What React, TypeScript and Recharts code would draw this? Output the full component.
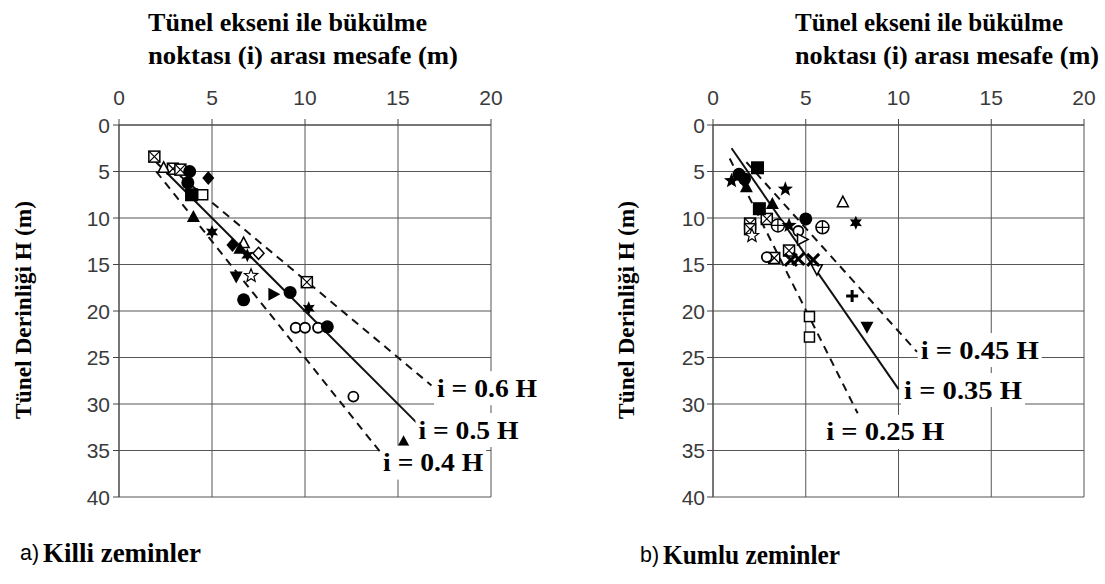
import React from 'react';
import { ScatterChart, Scatter, XAxis, YAxis, CartesianGrid, ReferenceLine } from 'recharts';

// ---------- axis ticks ----------
const xTicks = [0, 5, 10, 15, 20];
const yTicks = [0, 5, 10, 15, 20, 25, 30, 35, 40];

// ---------- titles ----------
const titleLine1 = 'Tünel ekseni ile bükülme';
const titleLine2 = 'noktası (i) arası mesafe (m)';
const yTitle = 'Tünel Derinliği H (m)';
const captionA = ['a)', 'Killi zeminler'];
const captionB = ['b)', 'Kumlu zeminler'];

// ---------- panel a) clay: points by marker ----------
const aCircleF = [{ x: 3.8, y: 5.0 }, { x: 3.7, y: 6.2 }, { x: 9.2, y: 18.0 }, { x: 6.7, y: 18.8 }, { x: 11.2, y: 21.7 }];
const aCircleO = [{ x: 9.5, y: 21.8 }, { x: 10.0, y: 21.8 }, { x: 10.7, y: 21.8 }, { x: 12.6, y: 29.2 }];
const aBoxX = [{ x: 1.9, y: 3.4 }, { x: 2.9, y: 4.7 }, { x: 3.3, y: 4.8 }, { x: 10.1, y: 16.9 }];
const aTriO = [{ x: 2.4, y: 4.6 }, { x: 6.7, y: 12.7 }];
const aDiamondF = [{ x: 4.8, y: 5.7 }, { x: 6.1, y: 12.9 }];
const aSquareF = [{ x: 3.9, y: 7.5 }];
const aSquareO = [{ x: 4.5, y: 7.5 }];
const aDiamondO = [{ x: 7.5, y: 13.8 }];
const aTriF = [{ x: 4.0, y: 9.9 }, { x: 6.5, y: 13.3 }, { x: 15.3, y: 34.1 }];
const aStar6 = [{ x: 5.0, y: 11.5 }, { x: 6.9, y: 14.0 }, { x: 10.2, y: 19.7 }];
const aTriDF = [{ x: 6.3, y: 16.3 }];
const aStarO = [{ x: 7.1, y: 16.2 }];
const aTriRF = [{ x: 8.3, y: 18.2 }];

// ---------- panel b) sand: points by marker ----------
const bSquareF = [{ x: 2.4, y: 4.6 }, { x: 2.5, y: 9.0 }];
const bCircleF = [{ x: 1.4, y: 5.3 }, { x: 1.7, y: 5.8 }, { x: 5.0, y: 10.1 }];
const bTriF = [{ x: 1.8, y: 6.7 }, { x: 3.2, y: 8.5 }];
const bStarF = [{ x: 1.0, y: 6.0 }, { x: 3.9, y: 6.9 }, { x: 4.1, y: 10.8 }];
const bStar6 = [{ x: 7.7, y: 10.5 }];
const bBoxX = [{ x: 2.9, y: 10.1 }, { x: 2.0, y: 10.6 }, { x: 2.0, y: 11.2 }, { x: 4.1, y: 13.5 }, { x: 3.3, y: 14.3 }];
const bStarO = [{ x: 2.1, y: 11.9 }];
const bPlusCircle = [{ x: 3.5, y: 10.8 }, { x: 5.9, y: 11.0 }];
const bCircleO = [{ x: 4.6, y: 11.4 }, { x: 2.9, y: 14.2 }];
const bTriO = [{ x: 7.0, y: 8.3 }];
const bTriRO = [{ x: 4.8, y: 12.3 }];
const bCrossF = [{ x: 4.2, y: 14.5 }, { x: 4.6, y: 14.4 }, { x: 5.4, y: 14.5 }];
const bTriDO = [{ x: 5.6, y: 15.5 }];
const bPlus = [{ x: 7.5, y: 18.4 }];
const bTriDF = [{ x: 8.3, y: 21.7 }];
const bSquareO = [{ x: 5.2, y: 20.6 }, { x: 5.2, y: 22.8 }];

// ---------- ratio lines i = k H (start / end points) ----------
const aLine06 = [{ x: 2.7, y: 4.5 }, { x: 16.8, y: 28.0 }];
const aLine05 = [{ x: 2.0, y: 4.0 }, { x: 16.0, y: 32.0 }];
const aLine04 = [{ x: 2.0, y: 5.0 }, { x: 14.5, y: 36.3 }];
const bLine045 = [{ x: 1.8, y: 4.0 }, { x: 11.0, y: 24.4 }];
const bLine035 = [{ x: 1.0, y: 2.5 }, { x: 10.0, y: 28.4 }];
const bLine025 = [{ x: 0.9, y: 3.6 }, { x: 7.8, y: 31.0 }];

// ---------- line labels ----------
const aLabels = [
  { x: 17.1, y: 28.3, text: 'i = 0.6 H' },
  { x: 16.1, y: 32.8, text: 'i = 0.5 H' },
  { x: 14.2, y: 36.3, text: 'i = 0.4 H' },
];
const bLabels = [
  { x: 11.2, y: 24.2, text: 'i = 0.45 H' },
  { x: 10.3, y: 28.5, text: 'i = 0.35 H' },
  { x: 6.1, y: 33.0, text: 'i = 0.25 H' },
];

const aSeries: [string, { x: number; y: number }[]][] = [
  ['boxX', aBoxX], ['triO', aTriO], ['circleO', aCircleO], ['squareO', aSquareO], ['diamondO', aDiamondO],
  ['starO', aStarO], ['circleF', aCircleF], ['diamondF', aDiamondF], ['squareF', aSquareF], ['triF', aTriF],
  ['star6', aStar6], ['triDF', aTriDF], ['triRF', aTriRF],
];
const bSeries: [string, { x: number; y: number }[]][] = [
  ['boxX', bBoxX], ['starO', bStarO], ['plusCircle', bPlusCircle], ['circleO', bCircleO], ['triO', bTriO],
  ['triRO', bTriRO], ['triDO', bTriDO], ['squareO', bSquareO], ['squareF', bSquareF], ['circleF', bCircleF],
  ['triF', bTriF], ['starF', bStarF], ['star6', bStar6], ['crossF', bCrossF], ['plus', bPlus], ['triDF', bTriDF],
];

const SERIF = '"Liberation Serif", "Times New Roman", serif';
const SANS = '"Liberation Sans", Arial, sans-serif';
const INK = '#000';
const TICK_COLOR = '#3a3a3a';

function starPts(cx: number, cy: number, n: number, ro: number, ri: number) {
  const pts: string[] = [];
  for (let i = 0; i < n * 2; i++) {
    const r = i % 2 === 0 ? ro : ri;
    const a = -Math.PI / 2 + (i * Math.PI) / n;
    pts.push(`${cx + r * Math.cos(a)},${cy + r * Math.sin(a)}`);
  }
  return pts.join(' ');
}

function Marker(props: any) {
  const { cx, cy, kind } = props;
  if (cx == null || cy == null) return <g />;
  const sw = 1.5;
  switch (kind) {
    case 'circleF':
      return <circle cx={cx} cy={cy} r={6.5} fill={INK} />;
    case 'circleO':
      return <circle cx={cx} cy={cy} r={5} fill="#fff" stroke={INK} strokeWidth={1.8} />;
    case 'squareF':
      return <rect x={cx - 6.5} y={cy - 6.5} width={13} height={13} fill={INK} />;
    case 'squareO':
      return <rect x={cx - 5} y={cy - 5} width={10} height={10} fill="#fff" stroke={INK} strokeWidth={sw} />;
    case 'boxX':
      return (
        <g>
          <rect x={cx - 5.5} y={cy - 5.5} width={11} height={11} fill="#fff" stroke={INK} strokeWidth={sw} />
          <path d={`M${cx - 5.5},${cy - 5.5}L${cx + 5.5},${cy + 5.5}M${cx + 5.5},${cy - 5.5}L${cx - 5.5},${cy + 5.5}`} stroke={INK} strokeWidth={1.2} />
        </g>
      );
    case 'diamondF':
      return <polygon points={`${cx},${cy - 7} ${cx + 6},${cy} ${cx},${cy + 7} ${cx - 6},${cy}`} fill={INK} />;
    case 'diamondO':
      return <polygon points={`${cx},${cy - 6} ${cx + 5.5},${cy} ${cx},${cy + 6} ${cx - 5.5},${cy}`} fill="#fff" stroke={INK} strokeWidth={sw} />;
    case 'triF':
      return <polygon points={`${cx},${cy - 7} ${cx + 6.5},${cy + 5} ${cx - 6.5},${cy + 5}`} fill={INK} />;
    case 'triO':
      return <polygon points={`${cx},${cy - 6} ${cx + 5.5},${cy + 4.5} ${cx - 5.5},${cy + 4.5}`} fill="#fff" stroke={INK} strokeWidth={sw} />;
    case 'triDF':
      return <polygon points={`${cx},${cy + 7} ${cx + 6.5},${cy - 5} ${cx - 6.5},${cy - 5}`} fill={INK} />;
    case 'triDO':
      return <polygon points={`${cx},${cy + 6} ${cx + 5.5},${cy - 4.5} ${cx - 5.5},${cy - 4.5}`} fill="#fff" stroke={INK} strokeWidth={sw} />;
    case 'triRF':
      return <polygon points={`${cx + 7},${cy} ${cx - 5},${cy - 6.5} ${cx - 5},${cy + 6.5}`} fill={INK} />;
    case 'triRO':
      return <polygon points={`${cx + 6},${cy} ${cx - 4.5},${cy - 5.5} ${cx - 4.5},${cy + 5.5}`} fill="#fff" stroke={INK} strokeWidth={sw} />;
    case 'starF':
      return <polygon points={starPts(cx, cy, 5, 8, 3.4)} fill={INK} />;
    case 'starO':
      return <polygon points={starPts(cx, cy, 5, 7, 3)} fill="#fff" stroke={INK} strokeWidth={1.2} />;
    case 'star6':
      return <polygon points={starPts(cx, cy, 6, 7, 3.5)} fill={INK} />;
    case 'plusCircle':
      return (
        <g>
          <circle cx={cx} cy={cy} r={6.5} fill="#fff" stroke={INK} strokeWidth={sw} />
          <path d={`M${cx - 6.5},${cy}L${cx + 6.5},${cy}M${cx},${cy - 6.5}L${cx},${cy + 6.5}`} stroke={INK} strokeWidth={1.3} />
        </g>
      );
    case 'plus':
      return <path d={`M${cx - 6},${cy}L${cx + 6},${cy}M${cx},${cy - 6}L${cx},${cy + 6}`} stroke={INK} strokeWidth={3} />;
    case 'crossF':
      return <path d={`M${cx - 6},${cy - 6}L${cx + 6},${cy + 6}M${cx + 6},${cy - 6}L${cx - 6},${cy + 6}`} stroke={INK} strokeWidth={3} />;
    default:
      return <circle cx={cx} cy={cy} r={4} fill={INK} />;
  }
}

function LineLabel(props: any) {
  const { cx, cy, payload } = props;
  if (cx == null || cy == null) return <g />;
  const text: string = payload?.text ?? '';
  const w = text.length > 9 ? 118 : 100;
  return (
    <g>
      <rect x={cx - 3} y={cy - 17} width={w + 6} height={34} fill="#fff" />
      <text x={cx} y={cy} dominantBaseline="central" fontFamily={SERIF} fontWeight="bold" fontSize={25} fill="#000" textLength={w} lengthAdjust="spacingAndGlyphs">
        {text}
      </text>
    </g>
  );
}

function XTick(props: any) {
  const { x, y, payload } = props;
  return (
    <text x={x} y={y} textAnchor="middle" fontFamily={SANS} fontSize={21} fill={TICK_COLOR}>
      {payload.value}
    </text>
  );
}

function YTick(props: any) {
  const { x, y, payload } = props;
  return (
    <text x={x} y={y} dy="0.36em" textAnchor="end" fontFamily={SANS} fontSize={21} fill={TICK_COLOR}>
      {payload.value}
    </text>
  );
}

type PanelProps = {
  left: number;
  width: number;
  margin: { top: number; right: number; bottom: number; left: number };
  series: [string, { x: number; y: number }[]][];
  lines: { pts: { x: number; y: number }[]; dashed: boolean }[];
  labels: { x: number; y: number; text: string }[];
  tickMargin: number;
};

function Panel({ left, width, margin, series, lines, labels, tickMargin }: PanelProps) {
  return (
    <div style={{ position: 'absolute', left, top: 0 }}>
      <ScatterChart width={width} height={584} margin={margin}>
        <CartesianGrid stroke="#555" strokeWidth={1} />
        <XAxis
          type="number"
          dataKey="x"
          orientation="top"
          domain={[0, 20]}
          ticks={xTicks}
          height={30}
          axisLine={{ stroke: '#444' }}
          tickLine={{ stroke: '#444' }}
          tickSize={6}
          tickMargin={14}
          tick={<XTick />}
        />
        <YAxis
          type="number"
          dataKey="y"
          reversed
          domain={[0, 40]}
          ticks={yTicks}
          width={30}
          axisLine={{ stroke: '#444' }}
          tickLine={{ stroke: '#444' }}
          tickSize={6}
          tickMargin={tickMargin}
          tick={<YTick />}
        />
        {lines.map((l, i) => (
          <ReferenceLine
            key={'l' + i}
            segment={l.pts}
            stroke="#111"
            strokeWidth={2}
            strokeDasharray={l.dashed ? '8 6' : undefined}
            ifOverflow="visible"
          />
        ))}
        {series.map(([kind, data], i) => (
          <Scatter
            key={kind + i}
            data={data}
            isAnimationActive={false}
            shape={(p: any) => <Marker {...p} kind={kind} />}
          />
        ))}
        <Scatter data={labels} isAnimationActive={false} shape={(p: any) => <LineLabel {...p} />} />
      </ScatterChart>
    </div>
  );
}

export default function App() {
  return (
    <div style={{ position: 'absolute', left: 0, top: 0, width: 1105, height: 584, background: '#fff', overflow: 'hidden' }}>
      <Panel
        left={0}
        width={560}
        margin={{ top: 95, right: 69, bottom: 87, left: 89 }}
        series={aSeries}
        lines={[
          { pts: aLine06, dashed: true },
          { pts: aLine05, dashed: false },
          { pts: aLine04, dashed: true },
        ]}
        labels={aLabels}
        tickMargin={3}
      />
      <Panel
        left={560}
        width={545}
        margin={{ top: 95, right: 21, bottom: 87, left: 123 }}
        series={bSeries}
        lines={[
          { pts: bLine045, dashed: true },
          { pts: bLine035, dashed: false },
          { pts: bLine025, dashed: true },
        ]}
        labels={bLabels}
        tickMargin={2}
      />
      <svg width={1105} height={584} style={{ position: 'absolute', left: 0, top: 0, pointerEvents: 'none' }}>
        <g fontFamily={SERIF} fontWeight="bold" fontSize={25} fill="#000">
          <text x={148} y={31} textLength={279} lengthAdjust="spacingAndGlyphs">{titleLine1}</text>
          <text x={148} y={64} textLength={310} lengthAdjust="spacingAndGlyphs">{titleLine2}</text>
          <text x={795} y={31} textLength={268} lengthAdjust="spacingAndGlyphs">{titleLine1}</text>
          <text x={795} y={64} textLength={304} lengthAdjust="spacingAndGlyphs">{titleLine2}</text>
        </g>
        <g fontFamily={SERIF} fontWeight="bold" fontSize={24} fill="#000">
          <text x={0} y={0} transform="translate(23,310) rotate(-90)" textAnchor="middle" dominantBaseline="central" textLength={218} lengthAdjust="spacingAndGlyphs">{yTitle}</text>
          <text x={0} y={0} transform="translate(626,310) rotate(-90)" textAnchor="middle" dominantBaseline="central" textLength={218} lengthAdjust="spacingAndGlyphs">{yTitle}</text>
        </g>
        <text x={20} y={560} fontFamily={SANS} fontSize={22} fill="#000" textLength={19} lengthAdjust="spacingAndGlyphs">{captionA[0]}</text>
        <text x={43} y={562} fontFamily={SERIF} fontWeight="bold" fontSize={27} fill="#000" textLength={158} lengthAdjust="spacingAndGlyphs">{captionA[1]}</text>
        <text x={640} y={562} fontFamily={SANS} fontSize={22} fill="#000" textLength={19} lengthAdjust="spacingAndGlyphs">{captionB[0]}</text>
        <text x={663} y={564} fontFamily={SERIF} fontWeight="bold" fontSize={27} fill="#000" textLength={177} lengthAdjust="spacingAndGlyphs">{captionB[1]}</text>
      </svg>
    </div>
  );
}
